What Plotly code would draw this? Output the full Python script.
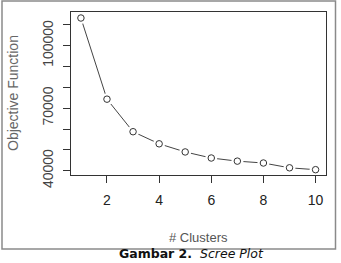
import plotly.graph_objects as go

clusters = [1, 2, 3, 4, 5, 6, 7, 8, 9, 10]
objective = [113200, 74300, 58700, 52900, 49000, 46100, 44600, 43700, 41400, 40500]

y_tickvals = [40000, 50000, 60000, 70000, 80000, 90000, 100000, 110000]
y_ticktext = ["40000", "", "", "70000", "", "", "100000", ""]
x_tickvals = [2, 4, 6, 8, 10]
x_ticktext = ["2", "4", "6", "8", "10"]

W, H = 341, 263
L, R, T, B = 71, 15, 12, 88
pw, ph = W - L - R, H - T - B

def px_x(p):
    return (p - L) / pw

def px_y(p):
    return (H - B - p) / ph

FONT = "Liberation Sans, Arial, sans-serif"
INK = "#333333"

fig = go.Figure()
fig.add_trace(go.Scatter(x=clusters, y=objective, mode="lines",
                         line=dict(color="#444444", width=1), hoverinfo="skip"))
fig.add_trace(go.Scatter(x=clusters, y=objective, mode="markers",
                         marker=dict(symbol="circle", size=12, color="white",
                                     line=dict(width=0)), hoverinfo="skip"))
fig.add_trace(go.Scatter(x=clusters, y=objective, mode="markers",
                         marker=dict(symbol="circle", size=6.5, color="white",
                                     line=dict(width=1, color=INK))))

fig.update_xaxes(range=[0.62, 10.4], tickvals=x_tickvals, ticktext=x_ticktext,
                 showgrid=False, zeroline=False, showline=True, mirror=True,
                 linecolor=INK, linewidth=1, ticks="outside", ticklen=7,
                 tickcolor=INK, tickfont=dict(family=FONT, size=14, color="#222222"),
                 ticklabelstandoff=5)
fig.update_yaxes(range=[37950, 116080], tickvals=y_tickvals, ticktext=y_ticktext,
                 showgrid=False, zeroline=False, showline=True, mirror=True,
                 linecolor=INK, linewidth=1, ticks="outside", ticklen=7,
                 tickcolor=INK, tickangle=-90,
                 tickfont=dict(family=FONT, size=14, color="#444444"),
                 ticklabelstandoff=4)

fig.add_annotation(text="Objective Function", xref="paper", yref="paper",
                   x=px_x(13), y=px_y(93), textangle=-90, showarrow=False,
                   xanchor="center", yanchor="middle",
                   font=dict(family=FONT, size=14, color="#666666"))
fig.add_annotation(text="# Clusters", xref="paper", yref="paper",
                   x=px_x(198), y=px_y(237), showarrow=False,
                   xanchor="center", yanchor="middle",
                   font=dict(family=FONT, size=13, color="#555555"))
fig.add_annotation(text="<b>Gambar 2.</b>  <i>Scree Plot</i>", xref="paper", yref="paper",
                   x=px_x(191), y=px_y(263), showarrow=False,
                   xanchor="center", yanchor="bottom",
                   font=dict(family="DejaVu Sans, Verdana, sans-serif", size=12.5, color="#111111"))

fig.add_shape(type="rect", xref="paper", yref="paper",
              x0=px_x(2), x1=px_x(335.5), y0=px_y(249), y1=px_y(1),
              line=dict(color="#8a8a8a", width=1.5), fillcolor="rgba(0,0,0,0)",
              layer="below")

fig.update_layout(width=W, height=H, margin=dict(l=L, r=R, t=T, b=B),
                  paper_bgcolor="white", plot_bgcolor="white", showlegend=False)

fig.write_html("out.html", config={"displayModeBar": False})
